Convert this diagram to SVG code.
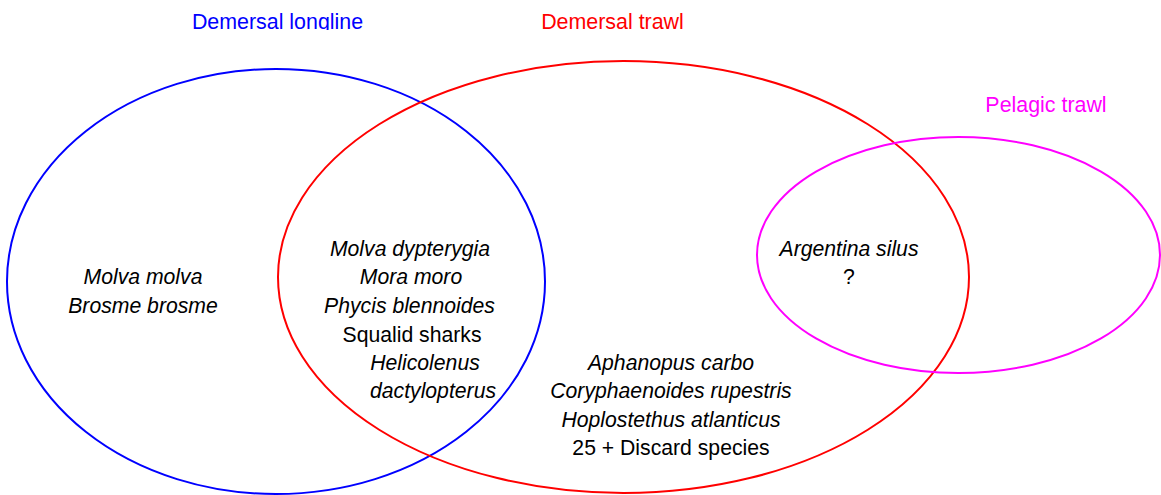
<svg xmlns="http://www.w3.org/2000/svg" width="1161" height="495" viewBox="0 0 1161 495">
<style>
  .set { fill: none; stroke-width: 2; }
  .title { font-family: "Liberation Sans", Arial, sans-serif; font-size: 21.4px; text-anchor: middle; }
  .sp { font-family: "Liberation Sans", Arial, sans-serif; font-size: 21.2px; text-anchor: middle; fill: #000; font-style: italic; }
  .up { font-style: normal; }
</style>
<defs>
  <clipPath id="topclip"><rect x="0" y="0" width="1161" height="30"/></clipPath>
</defs>
<rect x="0" y="0" width="1161" height="495" fill="#fff"/>
<g id="connectors"></g>
<g id="longline">
  <ellipse class="set" cx="276" cy="281.5" rx="269" ry="212.5" stroke="#0000FF"/>
  <text class="title" x="277.5" y="28.5" fill="#0000FF" clip-path="url(#topclip)">Demersal longline</text>
</g>
<g id="demersal-trawl">
  <ellipse class="set" cx="623.5" cy="277" rx="345.5" ry="216" stroke="#FF0000"/>
  <text class="title" x="612.5" y="28.5" fill="#FF0000">Demersal trawl</text>
</g>
<g id="pelagic-trawl">
  <ellipse class="set" cx="958.5" cy="255" rx="201.5" ry="118" stroke="#FF00FF"/>
  <text class="title" x="1046" y="112" fill="#FF00FF">Pelagic trawl</text>
</g>
<g id="longline-only">
  <text class="sp" x="143" y="284">Molva molva</text>
  <text class="sp" x="143" y="313">Brosme brosme</text>
</g>
<g id="longline-trawl">
  <text class="sp" x="410" y="256">Molva dypterygia</text>
  <text class="sp" x="411" y="284">Mora moro</text>
  <text class="sp" x="409.5" y="313">Phycis blennoides</text>
  <text class="sp up" x="412" y="342">Squalid sharks</text>
  <text class="sp" x="425" y="370">Helicolenus</text>
  <text class="sp" x="433" y="398">dactylopterus</text>
</g>
<g id="trawl-only">
  <text class="sp" x="671" y="370">Aphanopus carbo</text>
  <text class="sp" x="671" y="398">Coryphaenoides rupestris</text>
  <text class="sp" x="671" y="427">Hoplostethus atlanticus</text>
  <text class="sp up" x="671" y="455">25 + Discard species</text>
</g>
<g id="trawl-pelagic">
  <text class="sp" x="849" y="256">Argentina silus</text>
  <text class="sp up" x="849" y="284">?</text>
</g>
</svg>
